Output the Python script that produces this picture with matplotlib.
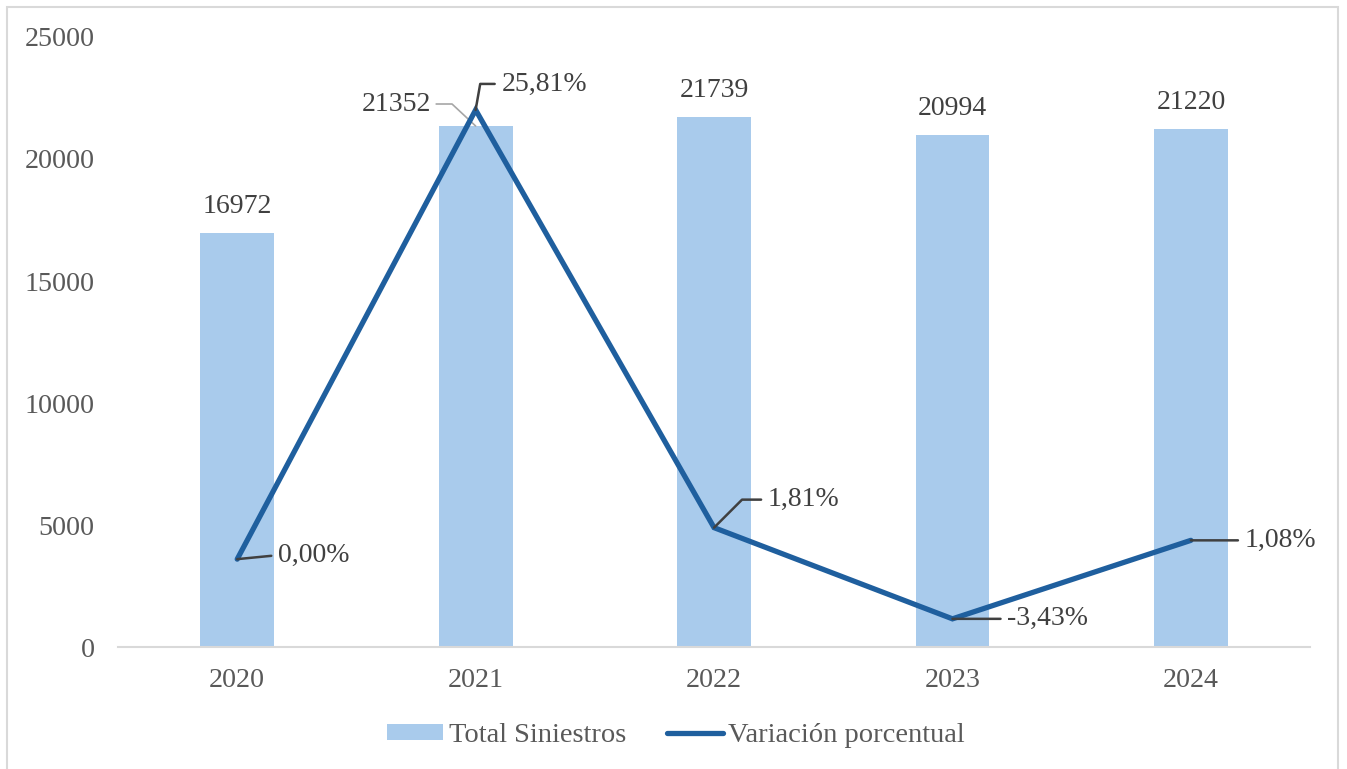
import matplotlib.pyplot as plt
from matplotlib.patches import Rectangle
import numpy as np

plt.rcParams['font.family'] = ['Liberation Serif', 'DejaVu Serif']

# datos
years = ['2020', '2021', '2022', '2023', '2024']
total_siniestros = [16972, 21352, 21739, 20994, 21220]
variacion = [0.00, 25.81, 1.81, -3.43, 1.08]

bar_color = '#A9CBEC'
line_color = '#1F5F9E'
label_color = '#404040'
tick_color = '#595959'

fig = plt.figure(figsize=(13.47, 7.69), dpi=100)
ax = fig.add_axes([0.0876, 0.1586, 0.885, 0.7933])
x = np.arange(len(years))

bars = ax.bar(x, total_siniestros, width=0.31, color=bar_color, label='Total Siniestros', zorder=1)
ax.set_xlim(-0.5, len(years) - 0.5)
ax.set_ylim(0, 25000)
ax.set_yticks(np.arange(0, 25001, 5000))
ax.set_xticks(x)
ax.set_xticklabels(years)
ax.tick_params(axis='both', length=0, labelsize=20.2, colors=tick_color)
ax.tick_params(axis='y', pad=17)
ax.tick_params(axis='x', pad=15)
for s in ['top', 'right', 'left']:
    ax.spines[s].set_visible(False)
ax.spines['bottom'].set_color('#D9D9D9')
ax.spines['bottom'].set_linewidth(1.5)

# etiquetas de barras
for i, v in enumerate(total_siniestros):
    if i == 1:
        ax.annotate(str(v), xy=(i, v), xytext=(-45, 22), textcoords='offset pixels',
                    ha='right', va='center', fontsize=20, color=label_color,
                    arrowprops=dict(arrowstyle='-', color='#A6A6A6', lw=1.2,
                                    relpos=(1, 0.5), shrinkA=2, shrinkB=0,
                                    connectionstyle='angle,angleA=0,angleB=137,rad=0'))
    else:
        ax.annotate(str(v), xy=(i, v), xytext=(0, 14), textcoords='offset pixels',
                    ha='center', va='bottom', fontsize=20, color=label_color)

# serie de variación en eje secundario
ax2 = ax.twinx()
ax2.set_ylim(-5.05, 30.0)
ax2.axis('off')
ax2.plot(x, variacion, color=line_color, lw=3.8, solid_capstyle='round',
         solid_joinstyle='miter', label='Variación porcentual', zorder=3)

# desplazamientos de las etiquetas (píxeles) y forma de la línea guía
offsets = [(41, 4), (26, 26), (54, 28), (55, 0), (54, 0)]
styles = ['arc3,rad=0',
          'angle,angleA=0,angleB=80,rad=0',
          'angle,angleA=0,angleB=45,rad=0',
          'arc3,rad=0',
          'arc3,rad=0']
for i, v in enumerate(variacion):
    txt = f'{v:.2f}%'.replace('.', ',')
    ax2.annotate(txt, xy=(i, v), xytext=offsets[i], textcoords='offset pixels',
                 ha='left', va='center', fontsize=20, color=label_color,
                 arrowprops=dict(arrowstyle='-', color=label_color, lw=1.8,
                                 relpos=(0, 0.5), shrinkA=3, shrinkB=0,
                                 connectionstyle=styles[i]))

h1, l1 = ax.get_legend_handles_labels()
h2, l2 = ax2.get_legend_handles_labels()
leg = fig.legend(h1 + h2, l1 + l2, loc='center', bbox_to_anchor=(0.502, 0.043),
                 ncol=2, frameon=False, fontsize=20.5, handlelength=1.95,
                 handleheight=0.5, handletextpad=0.2, columnspacing=1.45)
for t in leg.get_texts():
    t.set_color(tick_color)

# marco del gráfico
fig.patches.append(Rectangle((7 / 1347, -0.02), 1331 / 1347, 1.02 - 7 / 769,
                             transform=fig.transFigure, fill=False,
                             edgecolor='#D9D9D9', lw=1.5))

fig.savefig('out.png', dpi=100)
